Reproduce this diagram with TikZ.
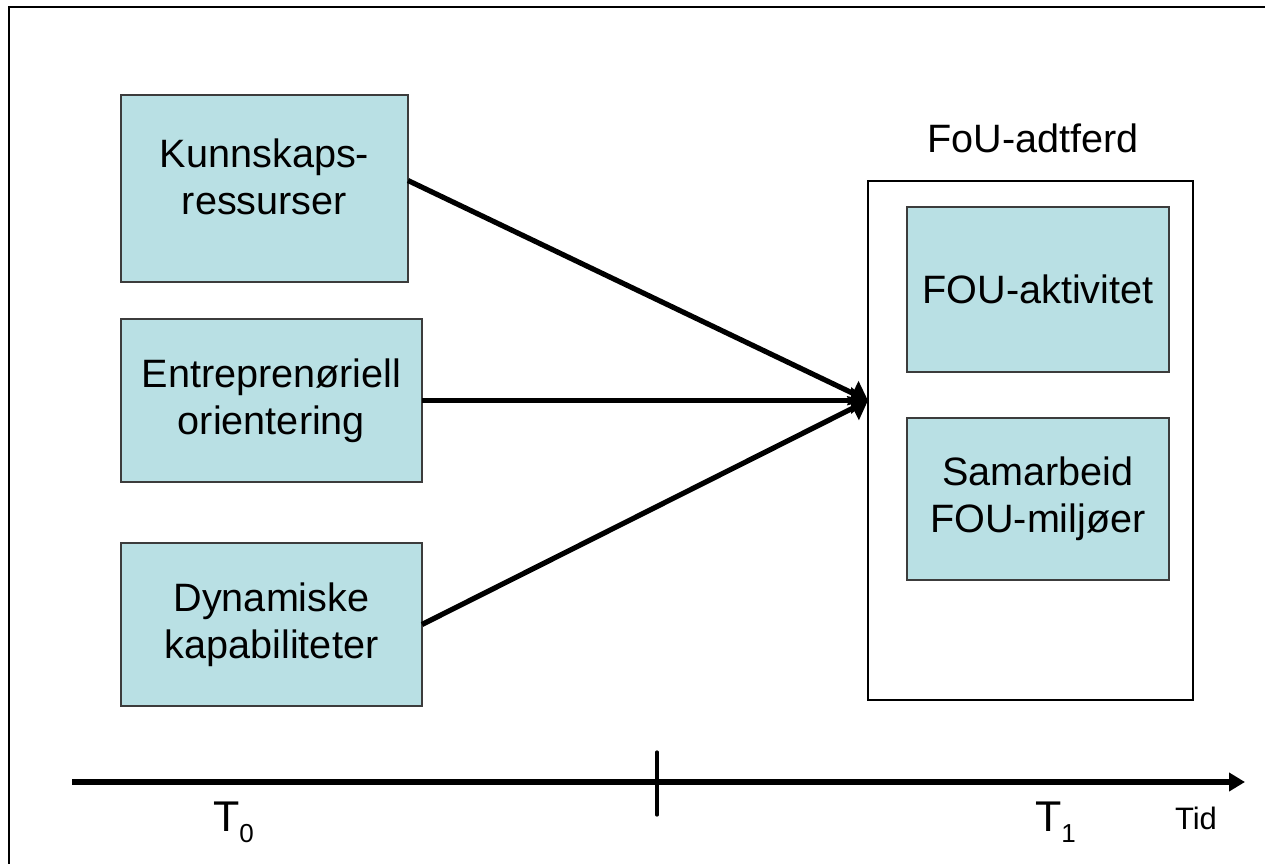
\documentclass[tikz,border=0pt]{standalone}
\usepackage{fontspec}
\setmainfont{Liberation Sans}
\usetikzlibrary{arrows.meta,calc}
\definecolor{boxfill}{RGB}{185,224,228}
\definecolor{boxline}{RGB}{60,60,60}
\begin{document}
\begin{tikzpicture}[x=0.5pt,y=-0.5pt,
  every node/.style={inner sep=0pt, outer sep=0pt},
  cbox/.style={draw=boxline, line width=0.6pt, fill=boxfill, align=center,
    font=\fontsize{19.8}{23.5}\selectfont},
  link/.style={line width=2.6pt, -{Triangle[length=8.5pt,width=13pt]}},
]
\useasboundingbox (0,0) rectangle (1265,863);
% frame
\draw[line width=0.9pt] (9,875) -- (9,7) -- (1280,7);
% left boxes
\node[cbox, minimum width=143.5pt, minimum height=93.5pt, text depth=12pt] (b1) at (264.5,188.5) {Kunnskaps-\\ressurser};
\node[cbox, minimum width=150.5pt, minimum height=81.5pt] (b2) at (271.5,400.5) {Entreprenøriell\\orientering};
\node[cbox, minimum width=150.5pt, minimum height=81.5pt] (b3) at (271.5,624.5) {Dynamiske\\kapabiliteter};
% right group
\node[draw=black, line width=0.6pt, fill=white, minimum width=162.5pt, minimum height=259.5pt] (outer) at (1030.5,440.5) {};
\node[font=\fontsize{19.8}{23.5}\selectfont, anchor=base] (lab) at (1033,152) {FoU-adtferd};
\node[cbox, minimum width=131pt, minimum height=82.5pt] (i1) at (1038,289.5) {FOU-aktivitet};
\node[cbox, minimum width=131pt, minimum height=81pt] (i2) at (1038,499) {Samarbeid\\FOU-miljøer};
% connectors
\coordinate (tgt) at (outer.west |- b2.east);
\draw[link] ([yshift=4pt]b1.east) -- (tgt);
\draw[link] (b2.east) -- (tgt);
\draw[link] (b3.east) -- (tgt);
% timeline
\coordinate (t0) at (72,782);
\coordinate (t1) at (1245,782);
\draw[line width=2.8pt, -{Triangle[length=8pt,width=9pt]}] (t0) -- (t1);
\coordinate (ka) at (657,752);
\coordinate (kb) at (657,815);
\draw[line width=1.6pt, line cap=round] (ka) -- (kb);
\node[anchor=base west, font=\fontsize{21.5}{24}\selectfont] (T0) at (213,831) {T\raisebox{-5.5pt}{\fontsize{13}{14}\selectfont 0}};
\node[anchor=base west, font=\fontsize{21.5}{24}\selectfont] (T1) at (1035,831) {T\raisebox{-5.5pt}{\fontsize{13}{14}\selectfont 1}};
\node[anchor=base west, font=\fontsize{15.5}{18}\selectfont] (tid) at (1175,829) {Tid};
\end{tikzpicture}
\end{document}
